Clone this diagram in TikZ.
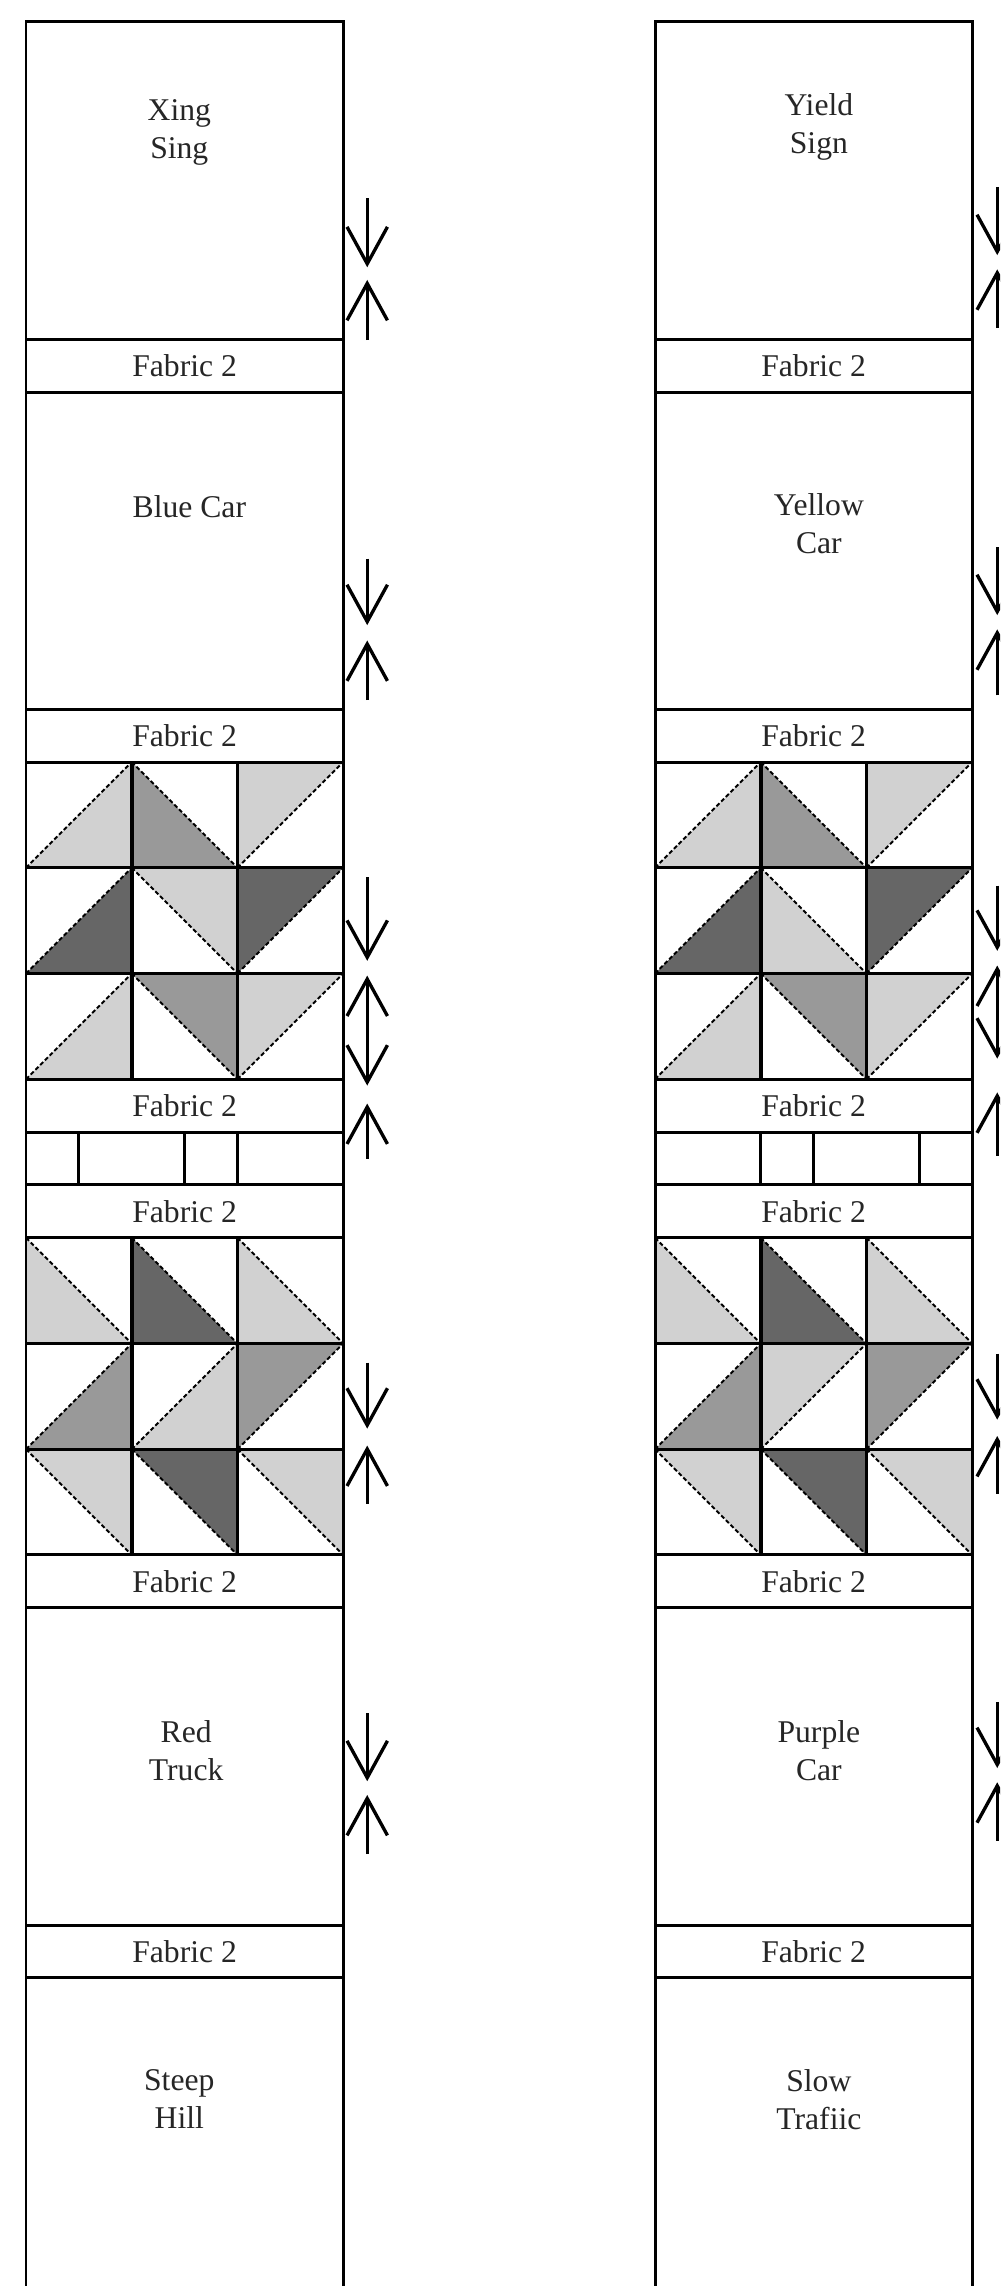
\documentclass[tikz,border=0pt]{standalone}
\usepackage{fontspec}
\setmainfont{Liberation Serif}
\usetikzlibrary{arrows.meta}
\definecolor{patchlight}{gray}{0.82}
\definecolor{patchmid}{gray}{0.6}
\definecolor{patchdark}{gray}{0.4}
\tikzset{
  frame/.style={line width=0.85pt},
  seam/.style={line width=1.1pt},
  diag/.style={line width=0.55pt, dash pattern=on 1.2pt off 0.7pt},
  fabric/.style={font=\fontsize{9}{10.8}\selectfont, text=black!85, inner sep=0pt},
  block/.style={fabric, align=center},
  pin/.style={->, line width=0.95pt},
  >={Straight Barb[length=10.5pt,width=11.5pt]}
}
% half-square triangles, cell of 2x2 with top left corner (#1,#2)
\newcommand{\hsLR}[3]{\fill[#3] (#1,#2+2) -- (#1+2,#2+2) -- (#1+2,#2) -- cycle;
  \draw[diag] (#1,#2+2) -- (#1+2,#2);}
\newcommand{\hsUL}[3]{\fill[#3] (#1,#2) -- (#1+2,#2) -- (#1,#2+2) -- cycle;
  \draw[diag] (#1,#2+2) -- (#1+2,#2);}
\newcommand{\hsLL}[3]{\fill[#3] (#1,#2) -- (#1,#2+2) -- (#1+2,#2+2) -- cycle;
  \draw[diag] (#1,#2) -- (#1+2,#2+2);}
\newcommand{\hsUR}[3]{\fill[#3] (#1,#2) -- (#1+2,#2) -- (#1+2,#2+2) -- cycle;
  \draw[diag] (#1,#2) -- (#1+2,#2+2);}
% outline of one row of blocks
\newcommand{\strips}[1]{%
  \draw[frame] (0,43) -- (0,0) -- (6,0) -- (6,43);
  \foreach \y in {6,7,13,14,16,18,20,21,22,23,25,27,29,30,36,37}
    \draw[frame] (0,\y) -- (6,\y);
  \draw[seam] (2,14) -- (2,20) (4,14) -- (4,20) (2,23) -- (2,29) (4,23) -- (4,29);
  \foreach \y [count=\i] in {6.5,13.5,20.5,22.5,29.5,36.5}
    \node[fabric] (#1fab\i) at (3,\y) {Fabric 2};
}
\begin{document}
\begin{tikzpicture}[x=0.01cm, y=-0.01cm]
  \clip (0,0) rectangle (1000,2286);
  \fill[white] (0,0) rectangle (1000,2286);

  % left row
  \begin{scope}[shift={(26,22)}, x=0.5283cm, y=-0.5283cm]
    \hsLR{0}{14}{patchlight} \hsLL{2}{14}{patchmid} \hsUL{4}{14}{patchlight}
    \hsLR{0}{16}{patchdark} \hsUR{2}{16}{patchlight} \hsUL{4}{16}{patchdark}
    \hsLR{0}{18}{patchlight} \hsUR{2}{18}{patchmid} \hsUL{4}{18}{patchlight}
    \hsLL{0}{23}{patchlight} \hsLL{2}{23}{patchdark} \hsLL{4}{23}{patchlight}
    \hsLR{0}{25}{patchmid} \hsLR{2}{25}{patchlight} \hsUL{4}{25}{patchmid}
    \hsUR{0}{27}{patchlight} \hsUR{2}{27}{patchdark} \hsUR{4}{27}{patchlight}
    \strips{L}
    \draw[frame] (1,21) -- (1,22) (3,21) -- (3,22) (4,21) -- (4,22);
    \node[block] (xing) at (2.9, 2.09) {Xing\\Sing};
    \node[block] (bluecar) at (3.09, 9.16) {Blue Car};
    \node[block] (redtruck) at (3.03, 32.71) {Red\\Truck};
    \node[block] (steephill) at (2.9, 39.3) {Steep\\Hill};
    \draw[pin] (6.455,3.33) -- (6.455,4.64);
    \draw[pin] (6.455,6.02) -- (6.455,4.88);
    \draw[pin] (6.455,10.15) -- (6.455,11.41);
    \draw[pin] (6.455,12.83) -- (6.455,11.70);
    \draw[pin] (6.455,16.18) -- (6.455,17.76);
    \draw[pin, <->] (6.455,18.04) -- (6.455,20.12);
    \draw[pin] (6.455,21.50) -- (6.455,20.46);
    \draw[pin] (6.455,25.36) -- (6.455,26.61);
    \draw[pin] (6.455,28.03) -- (6.455,26.93);
    \draw[pin] (6.455,31.99) -- (6.455,33.28);
    \draw[pin] (6.455,34.66) -- (6.455,33.54);
  \end{scope}

  % right row
  \begin{scope}[shift={(655,22)}, x=0.5283cm, y=-0.5283cm]
    \hsLR{0}{14}{patchlight} \hsLL{2}{14}{patchmid} \hsUL{4}{14}{patchlight}
    \hsLR{0}{16}{patchdark} \hsLL{2}{16}{patchlight} \hsUL{4}{16}{patchdark}
    \hsLR{0}{18}{patchlight} \hsUR{2}{18}{patchmid} \hsUL{4}{18}{patchlight}
    \hsLL{0}{23}{patchlight} \hsLL{2}{23}{patchdark} \hsLL{4}{23}{patchlight}
    \hsLR{0}{25}{patchmid} \hsUL{2}{25}{patchlight} \hsUL{4}{25}{patchmid}
    \hsUR{0}{27}{patchlight} \hsUR{2}{27}{patchdark} \hsUR{4}{27}{patchlight}
    \strips{R}
    \draw[frame] (2,21) -- (2,22) (3,21) -- (3,22) (5,21) -- (5,22);
    \node[block] (yield) at (3.1, 1.99) {Yield\\Sign};
    \node[block] (yellowcar) at (3.1, 9.49) {Yellow\\Car};
    \node[block] (purplecar) at (3.1, 32.71) {Purple\\Car};
    \node[block] (slowtraffic) at (3.1, 39.3) {Slow\\Trafiic};
    \draw[pin] (6.474,3.12) -- (6.474,4.41);
    \draw[pin] (6.474,5.79) -- (6.474,4.68);
    \draw[pin] (6.474,9.94) -- (6.474,11.22);
    \draw[pin] (6.474,12.74) -- (6.474,11.49);
    \draw[pin] (6.474,16.34) -- (6.474,17.57);
    \draw[pin, <->] (6.474,17.85) -- (6.474,19.61);
    \draw[pin] (6.474,21.45) -- (6.474,20.25);
    \draw[pin] (6.474,25.19) -- (6.474,26.44);
    \draw[pin] (6.474,27.84) -- (6.474,26.75);
    \draw[pin] (6.474,31.78) -- (6.474,33.03);
    \draw[pin] (6.474,34.41) -- (6.474,33.30);
  \end{scope}
\end{tikzpicture}
\end{document}
